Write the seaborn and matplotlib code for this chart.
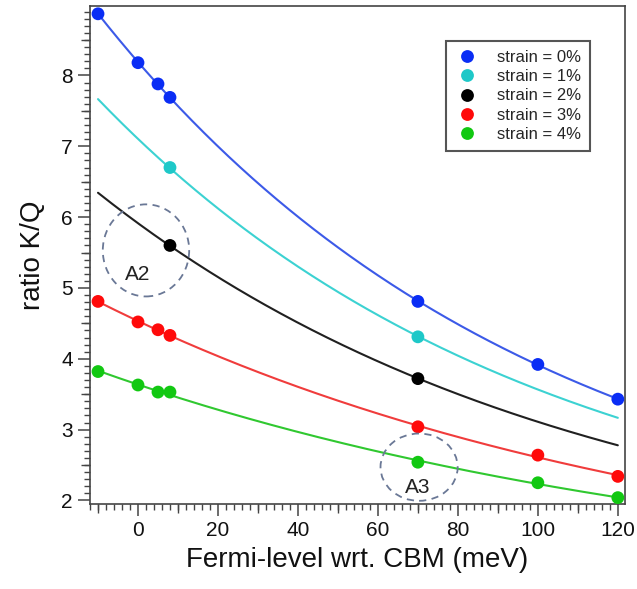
import numpy as np
import pandas as pd
import seaborn as sns
import matplotlib
matplotlib.use("Agg")
import matplotlib.pyplot as plt
from matplotlib.patches import Ellipse
from matplotlib.ticker import MultipleLocator, NullFormatter

# ---- data -------------------------------------------------------------
fermi_full = [-10, 0, 5, 8, 70, 100, 120]
fermi_sparse = [8, 70]

ratio_0 = [8.87, 8.18, 7.88, 7.69, 4.81, 3.92, 3.43]
ratio_1 = [6.70, 4.31]
ratio_2 = [5.60, 3.72]
ratio_3 = [4.81, 4.52, 4.41, 4.33, 3.04, 2.64, 2.34]
ratio_4 = [3.82, 3.63, 3.53, 3.53, 2.54, 2.25, 2.04]

# end values of the fitted curves for the two sparse series
curve_ends_x = [-10, 120]
curve_ends_1 = [7.66, 3.17]
curve_ends_2 = [6.34, 2.78]

labels = ["strain = 0%", "strain = 1%", "strain = 2%", "strain = 3%", "strain = 4%"]
marker_colors = ["#0a2df5", "#1ec8c8", "#000000", "#ff0a0a", "#12c812"]
line_colors = ["#3c5ae8", "#3cd2d2", "#202020", "#f03c3c", "#30c830"]

# ---- tidy tables ----------------------------------------------------------
points = pd.concat([
    pd.DataFrame({"fermi": fermi_full, "ratio": ratio_0, "strain": labels[0]}),
    pd.DataFrame({"fermi": fermi_sparse, "ratio": ratio_1, "strain": labels[1]}),
    pd.DataFrame({"fermi": fermi_sparse, "ratio": ratio_2, "strain": labels[2]}),
    pd.DataFrame({"fermi": fermi_full, "ratio": ratio_3, "strain": labels[3]}),
    pd.DataFrame({"fermi": fermi_full, "ratio": ratio_4, "strain": labels[4]}),
], ignore_index=True)

fit_inputs = {
    labels[0]: (fermi_full, ratio_0),
    labels[1]: (curve_ends_x[:1] + fermi_sparse + curve_ends_x[1:],
                curve_ends_1[:1] + ratio_1 + curve_ends_1[1:]),
    labels[2]: (curve_ends_x[:1] + fermi_sparse + curve_ends_x[1:],
                curve_ends_2[:1] + ratio_2 + curve_ends_2[1:]),
    labels[3]: (fermi_full, ratio_3),
    labels[4]: (fermi_full, ratio_4),
}


def exp_fit(x, y):
    """Least-squares fit of y = c + a*exp(-k x), scanning the decay rate k."""
    x = np.asarray(x, float)
    y = np.asarray(y, float)
    best = None
    for k in np.linspace(0.001, 0.05, 491):
        A = np.column_stack([np.ones_like(x), np.exp(-k * x)])
        coef, *_ = np.linalg.lstsq(A, y, rcond=None)
        err = np.sum((A @ coef - y) ** 2)
        if best is None or err < best[0]:
            best = (err, k, coef)
    _, k, coef = best
    return lambda t: coef[0] + coef[1] * np.exp(-k * t)


xs = np.linspace(-10, 120, 300)
curves = pd.concat([
    pd.DataFrame({"fermi": xs, "ratio": exp_fit(*fit_inputs[lab])(xs), "strain": lab})
    for lab in labels
], ignore_index=True)

# ---- style ------------------------------------------------------------
sns.set_style("ticks")
plt.rcParams["font.family"] = ["Liberation Sans", "DejaVu Sans"]
frame_color = "#444444"

fig = plt.figure(figsize=(6.37, 5.89), dpi=100)
ax = fig.add_axes([0.1413, 0.1443, 0.8399, 0.8455])

sns.lineplot(data=curves, x="fermi", y="ratio", hue="strain", hue_order=labels,
             palette=line_colors, linewidth=1.5, legend=False, ax=ax, zorder=2)
sns.scatterplot(data=points, x="fermi", y="ratio", hue="strain", hue_order=labels,
                palette=marker_colors, s=85, edgecolor="none", ax=ax, zorder=3)

ax.set_xlim(-12, 121.8)
ax.set_ylim(1.95, 8.98)

ax.xaxis.set_major_locator(MultipleLocator(20))
ax.xaxis.set_minor_locator(MultipleLocator(2))
ax.yaxis.set_major_locator(MultipleLocator(1))
ax.yaxis.set_minor_locator(MultipleLocator(0.1))

for s in ax.spines.values():
    s.set_color(frame_color)
    s.set_linewidth(1.2)
ax.tick_params(axis="both", which="major", direction="out", length=8.5, width=1.1,
               color=frame_color, labelsize=15, pad=4, labelcolor="#111111")
ax.tick_params(axis="both", which="minor", direction="out", length=4.3, width=1.0,
               color=frame_color)

# medium ticks at 10 meV and 0.5 steps
sec_x = ax.secondary_xaxis("bottom")
sec_x.set_xticks(np.arange(-10, 121, 20))
sec_x.xaxis.set_major_formatter(NullFormatter())
sec_x.tick_params(direction="out", length=6.5, width=1.0, color=frame_color)
sec_x.spines["bottom"].set_visible(False)
sec_y = ax.secondary_yaxis("left")
sec_y.set_yticks(np.arange(2.5, 9.0, 1.0))
sec_y.yaxis.set_major_formatter(NullFormatter())
sec_y.tick_params(direction="out", length=6.5, width=1.0, color=frame_color)
sec_y.spines["left"].set_visible(False)

ax.set_xlabel("Fermi-level wrt. CBM (meV)", fontsize=20, labelpad=5, color="#111111")
ax.set_ylabel("ratio K/Q", fontsize=20, labelpad=11, color="#111111")

# dashed highlight circles
circle_style = dict(fill=False, edgecolor="#6a7896", linestyle=(0, (4, 3)), linewidth=1.3, zorder=4)
ax.add_patch(Ellipse((2.0, 5.53), 21.6, 1.30, **circle_style))
ax.add_patch(Ellipse((70.3, 2.47), 19.3, 0.95, **circle_style))
ax.text(-0.2, 5.19, "A2", fontsize=15, ha="center", va="center", color="#222222")
ax.text(70.0, 2.18, "A3", fontsize=15, ha="center", va="center", color="#222222")

leg = ax.legend(loc="upper right", bbox_to_anchor=(0.935, 0.93), borderaxespad=0,
                frameon=True, fancybox=False, fontsize=12, markerscale=1.0,
                handletextpad=1.1, labelspacing=0.25, borderpad=0.55,
                handlelength=1.4, title=None)
leg.get_frame().set_edgecolor("#555555")
leg.get_frame().set_linewidth(1.5)
leg.get_frame().set_alpha(1)

fig.savefig("out.png", dpi=100)
